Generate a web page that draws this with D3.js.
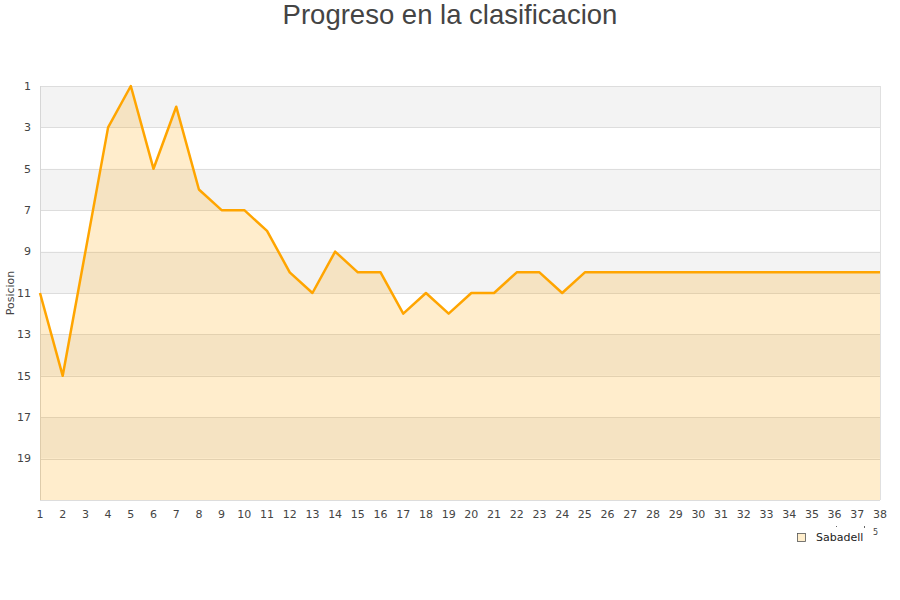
<!DOCTYPE html>
<html><head><meta charset="utf-8">
<script src="https://cdn.jsdelivr.net/npm/d3@7"></script>
<style>body{margin:0;background:#fff;}svg{display:block;font-family:"DejaVu Sans",sans-serif;}</style>
</head><body>
<svg id="c" width="900" height="600"></svg>
<script>
const title = "Progreso en la clasificacion";
const yTitle = "Posicion";
const seriesName = "Sabadell";
const rounds = d3.range(1, 39);
const positions = [11,15,9,3,1,5,2,6,7,7,8,10,11,9,10,10,12,11,12,11,11,10,10,11,10,10,10,10,10,10,10,10,10,10,10,10,10,10];
const yTicks = [1,3,5,7,9,11,13,15,17,19];

const svg = d3.select("#c");
const m = {l:40, r:880, t:86, b:500};
const x = d3.scaleLinear().domain([1,38]).range([m.l, m.r]);
const y = d3.scaleLinear().domain([1,21]).range([m.t, m.b]);

// bands
const bands = d3.range(1, 21, 2);
svg.append("g").selectAll("rect").data(bands).join("rect")
  .attr("x", m.l).attr("width", m.r - m.l)
  .attr("y", d => y(d)).attr("height", d => y(d+2) - y(d))
  .attr("fill", (d,i) => i % 2 === 0 ? "#f3f3f3" : "#ffffff");

// grid lines
svg.append("g").selectAll("line").data(yTicks.concat([21])).join("line")
  .attr("x1", m.l).attr("x2", m.r)
  .attr("y1", d => Math.round(y(d)) + 0.5).attr("y2", d => Math.round(y(d)) + 0.5)
  .attr("stroke", "#dddddd");

// border
svg.append("line").attr("x1", m.l + 0.5).attr("x2", m.l + 0.5).attr("y1", m.t).attr("y2", m.b).attr("stroke", "#d6d6d6");
svg.append("line").attr("x1", m.r + 0.5).attr("x2", m.r + 0.5).attr("y1", m.t).attr("y2", m.b).attr("stroke", "#e0e0e0");

const data = rounds.map((r,i) => ({r, p: positions[i]}));

svg.append("path").datum(data)
  .attr("d", d3.area().x(d => x(d.r)).y0(y(21)).y1(d => y(d.p)))
  .attr("fill", "#ffa500").attr("fill-opacity", 0.2);

svg.append("path").datum(data)
  .attr("d", d3.line().x(d => x(d.r)).y(d => y(d.p)))
  .attr("fill", "none").attr("stroke", "#ffa500").attr("stroke-width", 2.5)
  .attr("stroke-linejoin", "round");

// y axis labels
svg.append("g").selectAll("text").data(yTicks).join("text")
  .attr("x", 31).attr("y", d => y(d)).attr("dy", "0.35em")
  .attr("text-anchor", "end").attr("font-size", 11).attr("fill", "#444")
  .text(d => d);

// x axis labels
svg.append("g").selectAll("text").data(rounds).join("text")
  .attr("x", d => x(d)).attr("y", 518)
  .attr("text-anchor", "middle").attr("font-size", 11).attr("fill", "#444")
  .text(d => d);

// titles
svg.append("text").attr("x", 450).attr("y", 24).attr("text-anchor", "middle")
  .attr("font-family", "Liberation Sans, Arial, sans-serif")
  .attr("font-size", 27.5).attr("fill", "#444").text(title);

svg.append("text").attr("transform", "translate(14,293) rotate(-90)")
  .attr("text-anchor", "middle").attr("font-size", 11).attr("fill", "#444").text(yTitle);

// legend
svg.append("rect").attr("x", 797.5).attr("y", 533.5).attr("width", 8).attr("height", 8)
  .attr("fill", "#ffeecc").attr("stroke", "#555").attr("stroke-width", 0.8);
svg.append("text").attr("x", 816).attr("y", 541).attr("font-size", 11).attr("fill", "#222").text(seriesName);
svg.append("text").attr("x", 873).attr("y", 535).attr("font-size", 8).attr("fill", "#444").text("5");
svg.append("rect").attr("x", 836).attr("y", 526).attr("width", 1).attr("height", 1).attr("fill", "#666");
svg.append("rect").attr("x", 864).attr("y", 526).attr("width", 1).attr("height", 2).attr("fill", "#666");
</script>
</body></html>
